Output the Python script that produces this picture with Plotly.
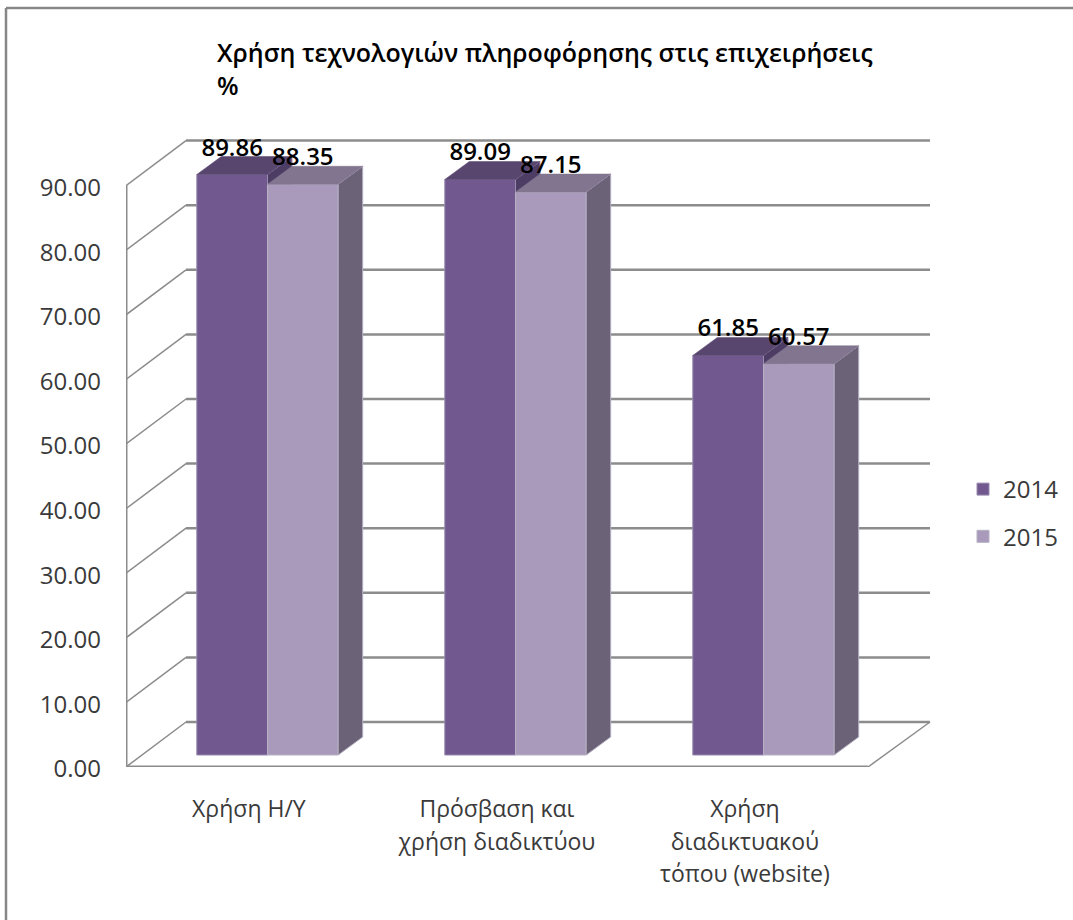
import plotly.graph_objects as go

# ---------- data ----------
categories = ["Χρήση Η/Υ", "Πρόσβαση και<br>χρήση διαδικτύου", "Χρήση<br>διαδικτυακού<br>τόπου (website)"]
series_names = ["2014", "2015"]
values_2014 = [89.86, 89.09, 61.85]
values_2015 = [88.35, 87.15, 60.57]
y_ticks = [0, 10, 20, 30, 40, 50, 60, 70, 80, 90]
title_lines = ["Χρήση τεχνολογιών πληροφόρησης στις επιχειρήσεις", "%"]

# ---------- pseudo-3D geometry, in axis units ----------
W, H = 1073, 920
ML, MR, MT, MB = 126, 133, 120, 153
PX_X = 248.0          # pixels per category
PX_Y = 6.46           # pixels per value unit
X0 = -(267.5 - ML) / PX_X
X1 = X0 + (W - ML - MR) / PX_X
Y1 = (H - MT - MB) / PX_Y
BAR_W = 70.7 / PX_X
BAR_BASE = 12 / PX_Y
BAR_DX, BAR_DY = 24.5 / PX_X, 18 / PX_Y
WALL_DX, WALL_DY = 60 / PX_X, 45 / PX_Y
FLOOR_R = X0 + 742 / PX_X
WALL_R = FLOOR_R + 62 / PX_X
LABEL_UP = 25 / PX_Y
TICK_COL = "#3A3A3A"
GRID = "#8C8C8C"
FONT = "Open Sans"

colors = {
    "2014": dict(front="#71598F", top="#58466F", side="#4D3C63", edge="#9A8BB0"),
    "2015": dict(front="#A99ABC", top="#81758F", side="#6B6278", edge="#B5B0C2"),
}


def small(text, px, extra=""):
    return "<br>".join(f'<span style="font-size:{px}px{extra}">{t}</span>' for t in text.split("<br>"))


fig = go.Figure()


def add_series(name, values, offset, xa, ya):
    c = colors[name]
    xs = list(range(len(values)))
    fig.add_trace(go.Bar(
        x=xs, y=values, base=BAR_BASE, width=BAR_W, offset=offset, name=name,
        legendgroup=name, marker=dict(color=c["front"], line=dict(color=c["edge"], width=1)),
        xaxis=xa, yaxis=ya, hoverinfo="skip"))
    tx, ty, sx, sy = [], [], [], []
    for i, v in zip(xs, values):
        l, r = i + offset, i + offset + BAR_W
        t = v + BAR_BASE
        tx += [l, l + BAR_DX, r + BAR_DX, r, l, None]
        ty += [t, t + BAR_DY, t + BAR_DY, t, t, None]
        sx += [r, r + BAR_DX, r + BAR_DX, r, r, None]
        sy += [BAR_BASE, BAR_BASE + BAR_DY, t + BAR_DY, t, BAR_BASE, None]
    fig.add_trace(go.Scatter(x=sx, y=sy, mode="lines", fill="toself", fillcolor=c["side"],
                             line=dict(color=c["edge"], width=1), showlegend=False,
                             hoverinfo="skip", xaxis=xa, yaxis=ya))
    fig.add_trace(go.Scatter(x=tx, y=ty, mode="lines", fill="toself", fillcolor=c["top"],
                             line=dict(color=c["top"], width=0.5), showlegend=False,
                             hoverinfo="skip", xaxis=xa, yaxis=ya))


add_series("2014", values_2014, -BAR_W, "x", "y")
add_series("2015", values_2015, 0, "x2", "y2")

for values, off in ((values_2014, -BAR_W / 2), (values_2015, BAR_W / 2)):
    fig.add_trace(go.Scatter(
        x=[i + off for i in range(len(values))],
        y=[v + BAR_BASE + LABEL_UP for v in values],
        text=[f"{v:.2f}" for v in values], mode="text", textposition="middle center",
        textfont=dict(family=FONT, size=24, color="black", weight=600), showlegend=False,
        hoverinfo="skip", xaxis="x2", yaxis="y2", cliponaxis=False))

# back wall, depth lines and floor, all behind the bars
shapes = []
line = lambda x0, y0, x1, y1, w=2.5: dict(type="line", xref="x", yref="y", x0=x0, y0=y0, x1=x1, y1=y1,
                                          layer="below", line=dict(color=GRID, width=w))
for t in y_ticks:
    shapes.append(line(X0 + WALL_DX, t + WALL_DY, WALL_R, t + WALL_DY))
    shapes.append(line(X0, t, X0 + WALL_DX, t + WALL_DY, 1.5))
shapes.append(line(X0, 0, X0, y_ticks[-1], 3))
shapes.append(line(X0, 0, FLOOR_R, 0, 3))
shapes.append(line(FLOOR_R, 0, WALL_R, WALL_DY, 1.5))
# outer chart frame: left and top only
fx = lambda px: (px - ML) / (W - ML - MR)
fy = lambda py: (H - MB - py) / (H - MT - MB)
frame = dict(color="#878787", width=2.5)
shapes.append(dict(type="line", xref="paper", yref="paper", x0=fx(6), x1=fx(6), y0=fy(8), y1=fy(H), line=frame))
shapes.append(dict(type="line", xref="paper", yref="paper", x0=fx(6), x1=fx(W), y0=fy(8), y1=fy(8), line=frame))

fig.update_layout(
    width=W, height=H, margin=dict(l=ML, r=MR, t=MT, b=MB, pad=0, autoexpand=False),
    paper_bgcolor="white", plot_bgcolor="white", shapes=shapes, barmode="overlay",
    font=dict(family=FONT, color=TICK_COL),
    title=dict(
        text="<br>".join(small(t, 25, ";font-weight:600") for t in title_lines),
        font=dict(family="Open Sans", size=25, color="black"),
        x=217 / W, xanchor="left", xref="container", y=1 - 62 / H, yanchor="middle", yref="container"),
    xaxis=dict(range=[X0, X1], tickmode="array", tickvals=[i - 0.075 for i in range(len(categories))],
               ticktext=[small(c, 23) for c in categories], tickfont=dict(family=FONT, size=25, color=TICK_COL),
               showgrid=False, zeroline=False, showline=False, ticks="", ticklabelstandoff=24),
    yaxis=dict(range=[0, Y1], tickmode="array", tickvals=y_ticks, ticktext=[f"{t:.2f}" for t in y_ticks],
               tickfont=dict(family=FONT, size=24, color=TICK_COL), showgrid=False, zeroline=False,
               showline=False, ticks="", ticklabelstandoff=24, ticklabelshift=2),
    xaxis2=dict(range=[X0, X1], overlaying="x", visible=False),
    yaxis2=dict(range=[0, Y1], overlaying="y", visible=False),
    legend=dict(x=fx(963), y=fy(467), xanchor="left", yanchor="top", tracegroupgap=13,
                font=dict(family=FONT, size=24, color=TICK_COL), bgcolor="rgba(0,0,0,0)", traceorder="grouped"),
)

fig.write_html("out.html", post_script="document.body.style.margin='0';", config={"displayModeBar": False})
